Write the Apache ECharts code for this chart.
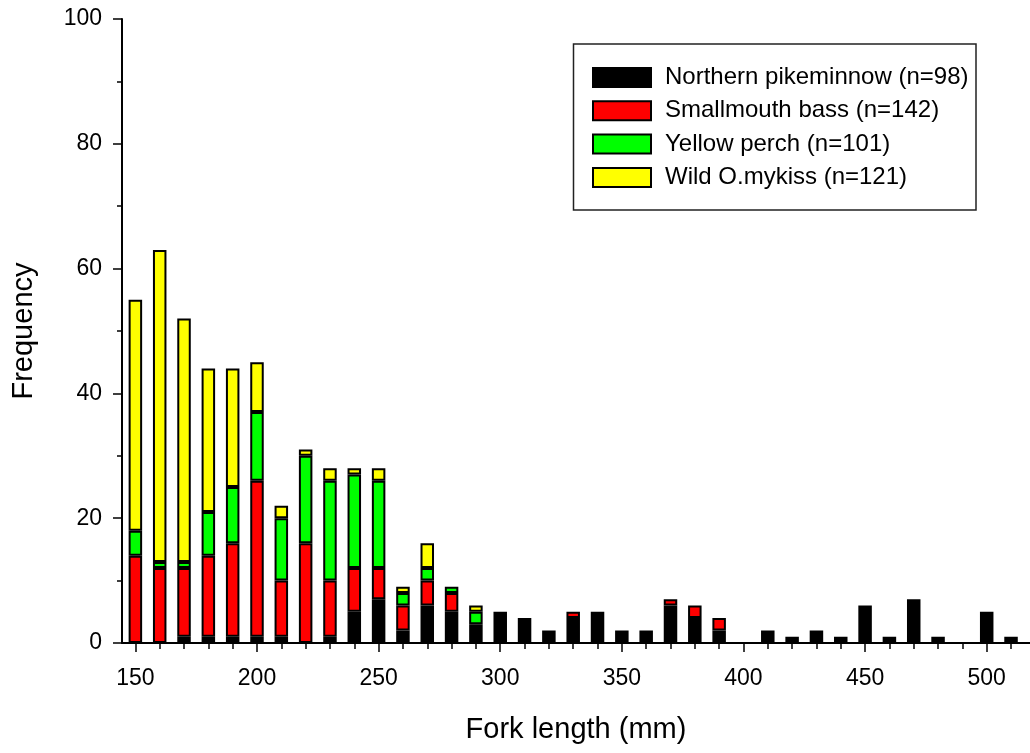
<!DOCTYPE html>
<html>
<head>
<meta charset="utf-8">
<script src="https://cdn.jsdelivr.net/npm/echarts@6/dist/echarts.min.js"></script>
<style>
  html, body { margin: 0; padding: 0; background: #fff; }
  #main { width: 1030px; height: 753px; }
</style>
</head>
<body>
<div id="main"></div>
<script>
// fork length bins (mm)
const lengths = [150, 160, 170, 180, 190, 200, 210, 220, 230, 240, 250, 260, 270, 280, 290, 300, 310, 320, 330, 340,
  350, 360, 370, 380, 390, 400, 410, 420, 430, 440, 450, 460, 470, 480, 490, 500, 510];

const pikeminnow = [0, 0, 1, 1, 1, 1, 1, 0, 1, 5, 7, 2, 6, 5, 3, 5, 4, 2, 4, 5,
  2, 2, 6, 4, 2, 0, 2, 1, 2, 1, 6, 1, 7, 1, 0, 5, 1];
const smallmouth = [14, 12, 11, 13, 15, 25, 9, 16, 9, 7, 5, 4, 4, 3, 0, 0, 0, 0, 1, 0,
  0, 0, 1, 2, 2, 0, 0, 0, 0, 0, 0, 0, 0, 0, 0, 0, 0];
const perch = [4, 1, 1, 7, 9, 11, 10, 14, 16, 15, 14, 2, 2, 1, 2, 0, 0, 0, 0, 0,
  0, 0, 0, 0, 0, 0, 0, 0, 0, 0, 0, 0, 0, 0, 0, 0, 0];
const mykiss = [37, 50, 39, 23, 19, 8, 2, 1, 2, 1, 2, 1, 4, 0, 1, 0, 0, 0, 0, 0,
  0, 0, 0, 0, 0, 0, 0, 0, 0, 0, 0, 0, 0, 0, 0, 0, 0];

const seriesNames = ['Northern pikeminnow (n=98)', 'Smallmouth bass (n=142)', 'Yellow perch (n=101)', 'Wild O.mykiss (n=121)'];
const seriesColors = ['#000000', '#ff0000', '#00ff00', '#ffff00'];

const xTickLabels = [150, 200, 250, 300, 350, 400, 450, 500];
const xMinorTicks = [160, 170, 180, 190, 210, 220, 230, 240, 260, 270, 280, 290, 310, 320, 330, 340,
  360, 370, 380, 390, 410, 420, 430, 440, 460, 470, 480, 490, 510];

const font = 'Liberation Sans, Arial, sans-serif';

var myChart = echarts.init(document.getElementById('main'));

// zero counts left empty so no border line is drawn
function toData(vals) {
  return vals.map(v => (v === 0 ? '-' : v));
}

const allVals = [pikeminnow, smallmouth, perch, mykiss];

// visible axis runs 144.5..517.8 mm over x=122..1030; the bar grid (145..515) sits inside it
const axMin = 144.5, axMax = 517.8;
const pxPerMm = (1030 - 122) / (axMax - axMin);
const barLeft = 122 + (145 - axMin) * pxPerMm;
const barRight = 1030 - (122 + (515 - axMin) * pxPerMm);

var option = {
  animation: false,
  backgroundColor: '#fff',
  grid: [
    { left: 122, right: 0, top: 19, bottom: 110 },
    { left: barLeft, right: barRight, top: 19, bottom: 110 }
  ],
  graphic: [{
    type: 'rect',
    shape: { x: 573.5, y: 44, width: 402.5, height: 166 },
    style: { fill: 'none', stroke: '#222', lineWidth: 1.5 },
    z: 10
  }],
  legend: {
    orient: 'vertical',
    left: 592,
    top: 65.5,
    padding: 0,
    itemWidth: 58,
    itemHeight: 19,
    itemGap: 9.3,
    icon: 'rect',
    data: seriesNames,
    textStyle: { fontFamily: font, fontSize: 24, color: '#000', padding: [0, 0, 0, 9] }
  },
  xAxis: [{
    type: 'value',
    gridIndex: 0,
    min: axMin,
    max: axMax,
    name: 'Fork length (mm)',
    nameLocation: 'middle',
    nameGap: 72,
    nameTextStyle: { fontFamily: font, fontSize: 29, color: '#000' },
    axisLine: { show: true, lineStyle: { color: '#000', width: 2 } },
    axisTick: { show: true, customValues: xTickLabels, length: 9, lineStyle: { color: '#000', width: 1.5 } },
    axisLabel: { customValues: xTickLabels, margin: 24, fontFamily: font, fontSize: 23, color: '#000' },
    splitLine: { show: false }
  }, {
    type: 'value',
    gridIndex: 0,
    min: axMin,
    max: axMax,
    position: 'bottom',
    axisLine: { show: false },
    axisTick: { show: true, customValues: xMinorTicks, length: 6, lineStyle: { color: '#000', width: 1.5 } },
    axisLabel: { show: false },
    splitLine: { show: false }
  }, {
    type: 'category',
    gridIndex: 1,
    data: lengths,
    show: false
  }],
  yAxis: [{
    type: 'value',
    gridIndex: 0,
    min: 0,
    max: 100,
    interval: 20,
    name: 'Frequency',
    nameLocation: 'middle',
    nameGap: 84,
    nameTextStyle: { fontFamily: font, fontSize: 29, color: '#000' },
    axisLine: { show: true, lineStyle: { color: '#000', width: 2 } },
    axisTick: { show: true, length: 9, lineStyle: { color: '#000', width: 1.5 } },
    minorTick: { show: true, splitNumber: 2, length: 5, lineStyle: { color: '#000', width: 1.5 } },
    axisLabel: { margin: 20, fontFamily: font, fontSize: 23, color: '#000' },
    splitLine: { show: false }
  }, {
    type: 'value',
    gridIndex: 1,
    min: 0,
    max: 100,
    show: false,
    splitLine: { show: false }
  }],
  series: seriesNames.map((name, k) => ({
    name: name,
    type: 'bar',
    stack: 'fish',
    xAxisIndex: 2,
    yAxisIndex: 1,
    barWidth: 13.5,
    itemStyle: { color: seriesColors[k], borderColor: '#000', borderWidth: 2 },
    data: toData(allVals[k])
  }))
};

myChart.setOption(option);
</script>
</body>
</html>
